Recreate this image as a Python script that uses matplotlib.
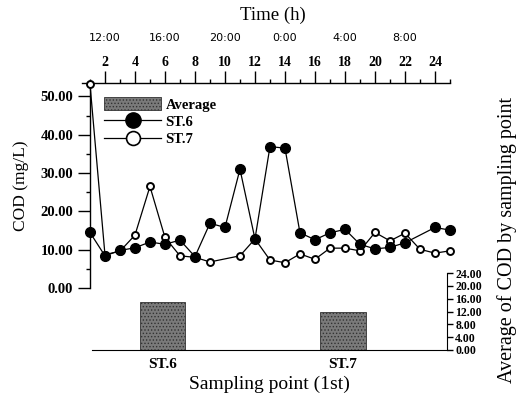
import numpy as np
import matplotlib
matplotlib.use('Agg')
import matplotlib.pyplot as plt
from matplotlib.patches import Patch
from matplotlib.lines import Line2D

plt.rcParams['font.family'] = ['Liberation Serif', 'DejaVu Serif']
plt.rcParams['hatch.color'] = '#2a2a2a'
plt.rcParams['hatch.linewidth'] = 0.6

# sampling index (hourly), COD values
st6_x = [0, 1, 2, 3, 4, 5, 6, 7, 8, 9, 10, 11, 12, 13, 14, 15, 16, 17, 18, 19, 20, 21, 23, 24]
st6_cod = [14.5, 8.4, 9.8, 10.5, 12.0, 11.4, 12.5, 8.2, 16.9, 15.8, 31.0, 12.8,
           36.9, 36.5, 14.4, 12.6, 14.4, 15.3, 11.4, 10.2, 10.6, 11.8, 15.8, 15.1]
st7_x = [0, 1, 2, 3, 4, 5, 6, 7, 8, 10, 11, 12, 13, 14, 15, 16, 17, 18, 19, 20, 21, 22, 23, 24]
st7_cod = [53.3, 8.7, 9.6, 13.8, 26.5, 13.2, 8.4, 8.0, 6.8, 8.4, 12.8, 7.3,
           6.6, 8.9, 7.5, 10.4, 10.4, 9.7, 14.5, 12.3, 14.3, 10.1, 9.1, 9.7]

# top axis labels
sample_ticks = [1, 3, 5, 7, 9, 11, 13, 15, 17, 19, 21, 23]
sample_labels = ['2', '4', '6', '8', '10', '12', '14', '16', '18', '20', '22', '24']
time_pos = [1, 5, 9, 13, 17, 21]
time_labels = ['12:00', '16:00', '20:00', '0:00', '4:00', '8:00']

# averages by sampling point
stations = ['ST.6', 'ST.7']
avg_cod = [15.0, 11.8]

W, H = 519, 398
fig = plt.figure(figsize=(W / 100, H / 100), dpi=100)

# ---- main line plot ----
ax = fig.add_axes([82 / W, (H - 288) / H, 368 / W, 205 / H])
ax.plot(st7_x, st7_cod, color='black', lw=0.9, marker='o', ms=5, mfc='white',
        mec='black', mew=1.4, clip_on=False, zorder=3)
ax.plot(st6_x, st6_cod, color='black', lw=0.9, marker='o', ms=7, mfc='black',
        mec='black', clip_on=False, zorder=4)
ax.set_xlim(-0.53, 24.0)
ax.set_ylim(0, 53.5)

ax.spines['right'].set_visible(False)
ax.spines['bottom'].set_visible(False)
ax.spines['left'].set_position(('data', 0))
ax.spines['left'].set_linewidth(1.0)
ax.spines['top'].set_linewidth(1.0)

ax.set_yticks([0, 10, 20, 30, 40, 50])
ax.set_yticklabels(['%.2f' % v for v in [0, 10, 20, 30, 40, 50]], fontsize=10.5, fontweight='bold')
ax.set_yticks([5, 15, 25, 35, 45], minor=True)
ax.tick_params(axis='y', which='major', length=9, width=1.0, direction='out', pad=3)
ax.tick_params(axis='y', which='minor', length=3, width=1.0, direction='out')

ax.xaxis.tick_top()
ax.set_xticks(sample_ticks)
ax.set_xticklabels(sample_labels, fontsize=10, fontweight='bold')
ax.set_xticks(range(0, 25, 2), minor=True)
ax.tick_params(axis='x', which='major', length=9, width=1.0, direction='out', pad=1)
ax.tick_params(axis='x', which='minor', length=3, width=1.0, direction='out')

# clock times above the sample numbers
for p, t in zip(time_pos, time_labels):
    ax.text(p, 1.22, t, transform=ax.get_xaxis_transform(), ha='center', va='center',
            fontsize=8, family='DejaVu Sans', color='black')

ax.set_ylabel('COD (mg/L)', fontsize=12.5, labelpad=8)
fig.text(273 / W, 1 - 15 / H, 'Time (h)', fontsize=13.5, ha='center', va='center')

# legend
handles = [Patch(facecolor='#7a7a7a', edgecolor='#333333', hatch='.....', lw=0.6),
           Line2D([], [], color='black', lw=0.9, marker='o', ms=11, mfc='black'),
           Line2D([], [], color='black', lw=0.9, marker='o', ms=10, mfc='white', mew=1.2)]
ax.legend(handles, ['Average', 'ST.6', 'ST.7'], loc='upper left',
          bbox_to_anchor=(0.045, 0.96), frameon=False, handlelength=3.9, handleheight=1.0,
          labelspacing=0.2, handletextpad=0.3, borderaxespad=0,
          prop={'family': 'Liberation Serif', 'weight': 'bold', 'size': 10.5})

# ---- average bar plot ----
bx = fig.add_axes([92 / W, (H - 350) / H, 355 / W, 77 / H])
bx.bar([0, 1], avg_cod, width=0.25, color='#7a7a7a', edgecolor='#333333',
       hatch='.....', lw=0.6)
bx.set_xlim(-0.39, 1.576)
bx.set_ylim(0, 24)
bx.spines['left'].set_visible(False)
bx.spines['top'].set_visible(False)
bx.yaxis.tick_right()
bx.set_yticks([0, 4, 8, 12, 16, 20, 24])
bx.set_yticklabels(['%.2f' % v for v in [0, 4, 8, 12, 16, 20, 24]], fontsize=8.5, fontweight='bold')
bx.tick_params(axis='y', length=4, width=1.0, direction='out', pad=2)
bx.set_xticks([0, 1])
bx.set_xticklabels(stations, fontsize=11, fontweight='bold')
bx.tick_params(axis='x', length=0, pad=6)
bx.set_xlabel('Sampling point (1st)', fontsize=14, labelpad=3)

fig.text(507 / W, 1 - 240 / H, 'Average of COD by sampling point', rotation=90,
         fontsize=14.5, ha='center', va='center')

fig.savefig('out.png', dpi=100)
